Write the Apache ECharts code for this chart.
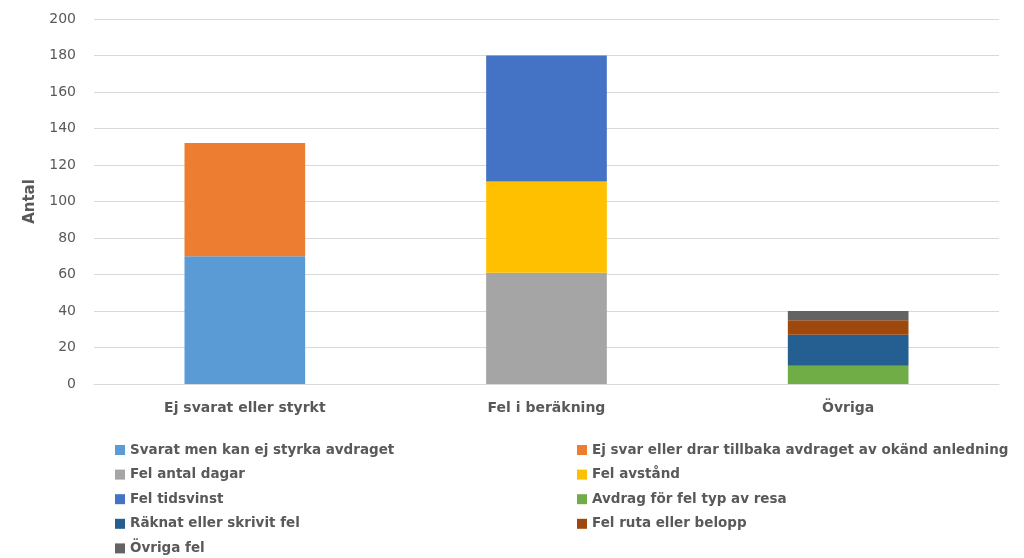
<!DOCTYPE html>
<html>
<head>
<meta charset="utf-8">
<script src="https://cdn.jsdelivr.net/npm/echarts@6/dist/echarts.min.js"></script>
<style>
  html, body { margin: 0; padding: 0; background: #ffffff; }
  #chart { width: 1024px; height: 558px; }
</style>
</head>
<body>
<div id="chart"></div>
<script>
// Categories along the x axis
const categories = ['Ej svarat eller styrkt', 'Fel i beräkning', 'Övriga'];

// Stacked series: one value per category
const svaratMenKanEj = [70, 0, 0];
const ejSvarEllerDrar = [62, 0, 0];
const felAntalDagar = [0, 61, 0];
const felAvstand = [0, 50, 0];
const felTidsvinst = [0, 69, 0];
const avdragFelTyp = [0, 0, 10];
const raknatEllerSkrivit = [0, 0, 17];
const felRutaEllerBelopp = [0, 0, 8];
const ovrigaFel = [0, 0, 5];

const yTicks = [0, 20, 40, 60, 80, 100, 120, 140, 160, 180, 200];

const seriesDefs = [
  { name: 'Svarat men kan ej styrka avdraget', data: svaratMenKanEj, color: '#5B9BD5' },
  { name: 'Ej svar eller drar tillbaka avdraget av okänd anledning', data: ejSvarEllerDrar, color: '#ED7D31' },
  { name: 'Fel antal dagar', data: felAntalDagar, color: '#A5A5A5' },
  { name: 'Fel avstånd', data: felAvstand, color: '#FFC000' },
  { name: 'Fel tidsvinst', data: felTidsvinst, color: '#4472C4' },
  { name: 'Avdrag för fel typ av resa', data: avdragFelTyp, color: '#70AD47' },
  { name: 'Räknat eller skrivit fel', data: raknatEllerSkrivit, color: '#255E91' },
  { name: 'Fel ruta eller belopp', data: felRutaEllerBelopp, color: '#9E480E' },
  { name: 'Övriga fel', data: ovrigaFel, color: '#636363' }
];

// Legend in two columns: even entries left, odd entries right
const leftNames = seriesDefs.filter((d, i) => i % 2 === 0).map(d => d.name);
const rightNames = seriesDefs.filter((d, i) => i % 2 === 1).map(d => d.name);

const FONT = 'DejaVu Sans, Verdana, sans-serif';

const legendText = {
  fontFamily: FONT,
  fontSize: 13.5,
  fontWeight: 'bold',
  color: '#595959',
  lineHeight: 16
};

const legendCommon = {
  orient: 'vertical', top: 442, height: 140, padding: 0,
  itemWidth: 10, itemHeight: 10, itemGap: 8.6, icon: 'rect',
  textStyle: legendText, selectedMode: false
};

const chart = echarts.init(document.getElementById('chart'), null, { renderer: 'canvas' });

chart.setOption({
  animation: false,
  backgroundColor: '#ffffff',
  grid: { left: 94, right: 25, top: 19, bottom: 174, containLabel: false },
  legend: [
    Object.assign({ data: leftNames, left: 115 }, legendCommon),
    Object.assign({ data: rightNames, left: 577 }, legendCommon)
  ],
  xAxis: {
    type: 'category',
    data: categories,
    axisLine: { show: true, lineStyle: { color: '#d9d9d9', width: 1 } },
    axisTick: { show: false },
    axisLabel: {
      color: '#595959', fontSize: 14, fontWeight: 'bold', margin: 17,
      fontFamily: FONT
    }
  },
  yAxis: {
    type: 'value',
    min: yTicks[0],
    max: yTicks[yTicks.length - 1],
    interval: 20,
    name: 'Antal',
    nameLocation: 'middle',
    nameGap: 56,
    nameTextStyle: {
      color: '#595959', fontSize: 15, fontWeight: 'bold',
      fontFamily: FONT
    },
    axisLine: { show: false },
    axisTick: { show: false },
    axisLabel: {
      color: '#595959', fontSize: 14, margin: 18,
      fontFamily: FONT
    },
    splitLine: { lineStyle: { color: '#d9d9d9', width: 1 } }
  },
  series: seriesDefs.map(d => ({
    name: d.name,
    type: 'bar',
    stack: 'total',
    barWidth: '40%',
    data: d.data,
    itemStyle: { color: d.color },
    emphasis: { disabled: true }
  }))
});
</script>
</body>
</html>
